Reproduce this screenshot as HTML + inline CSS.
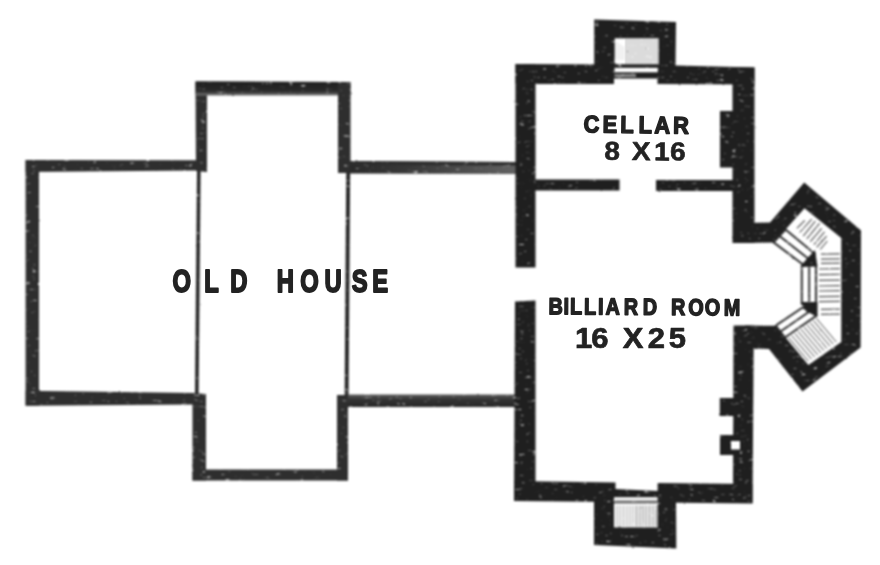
<!DOCTYPE html>
<html lang="en"><head><meta charset="utf-8"><title>Floor plan: Old House, Cellar, Billiard Room</title>
<style>
html,body{margin:0;padding:0;background:#fff;}
body{width:880px;height:565px;overflow:hidden;}
svg{display:block;}
.w{fill:#1f1f1f;}
.oh .w{fill:#2e2e2e;}
.oh .l{stroke:#242424;}
.wh{fill:#fff;}
.gr{fill:#9a9a9a;}
.sill{fill:#fff;stroke:#2c2c2c;stroke-width:2.0;stroke-linejoin:round;}
.l{stroke:#222;fill:none;stroke-linecap:butt;}
.h{stroke:#4a4a4a;fill:none;}
.h3{stroke:#777;fill:none;}
.h4{stroke:#bbb;fill:none;}
.h2{stroke:#444;fill:none;}
.t{font-family:"Liberation Sans",sans-serif;font-weight:bold;fill:#222;stroke:#222;stroke-linejoin:round;}
</style></head><body>
<svg width="880" height="565" viewBox="0 0 880 565">
<defs>
<filter id="soft" x="-2%" y="-2%" width="104%" height="104%"><feGaussianBlur stdDeviation="0.7"/></filter>
<filter id="ink" x="0" y="0" width="100%" height="100%" filterUnits="userSpaceOnUse" color-interpolation-filters="sRGB">
<feTurbulence type="fractalNoise" baseFrequency="0.22 0.3" numOctaves="2" seed="7" result="n"/>
<feDisplacementMap in="SourceGraphic" in2="n" scale="1.6" xChannelSelector="R" yChannelSelector="G" result="d"/>
<feTurbulence type="fractalNoise" baseFrequency="0.16 0.34" numOctaves="3" seed="11" result="n2"/>
<feColorMatrix in="n2" type="matrix" values="0 0 0 0 1  0 0 0 0 1  0 0 0 0 1  4 0 0 0 -2.72" result="sp"/>
<feComposite in="sp" in2="d" operator="in" result="sp2"/>
<feMerge result="m"><feMergeNode in="d"/><feMergeNode in="sp2"/></feMerge>
<feGaussianBlur in="m" stdDeviation="0.8"/>
</filter>
<linearGradient id="fadeR" x1="0" y1="0" x2="1" y2="0"><stop offset="0" stop-color="#2a2a2a"/><stop offset="0.35" stop-color="#383838"/><stop offset="0.7" stop-color="#4e4e4e"/><stop offset="1" stop-color="#626262"/></linearGradient>
<linearGradient id="fadeT" x1="0" y1="0" x2="0" y2="1"><stop offset="0" stop-color="#1e1e1e"/><stop offset="0.7" stop-color="#2a2a2a"/><stop offset="1" stop-color="#777"/></linearGradient>
<linearGradient id="fadeB" x1="0" y1="0" x2="0" y2="1"><stop offset="0" stop-color="#5c5c5c"/><stop offset="0.4" stop-color="#343434"/><stop offset="1" stop-color="#262626"/></linearGradient>
</defs>
<rect width="880" height="565" fill="#fff"/>
<g filter="url(#ink)">
<g id="old-house" class="oh">
<rect class="w" x="25.6" y="160.0" width="13.4" height="245.5"/>
<polygon class="w" points="25.6,160.0 197.0,160.3 197.0,170.5 25.6,172.0"/>
<polygon class="w" points="25.6,390.8 195.0,393.0 195.0,404.5 25.6,405.8"/>
<polygon class="w" points="195.5,82.0 207.0,82.0 207.0,172.0 196.0,171.0"/>
<polygon class="w" points="195.5,81.3 350.5,82.0 350.5,95.5 195.5,95.5" style="fill:url(#fadeT)"/>
<polygon class="w" points="338.0,82.5 350.5,82.5 350.5,173.0 338.0,173.0"/>
<line class="l" x1="198.8" y1="171.0" x2="196.8" y2="395.0" stroke-width="3.60"/>
<line class="l" x1="348.2" y1="172.0" x2="346.6" y2="396.0" stroke-width="3.90"/>
<polygon class="w" points="192.5,393.0 206.0,394.0 206.0,480.5 192.5,480.5"/>
<polygon class="w" points="192.5,469.5 348.0,469.5 348.0,480.5 192.5,480.5"/>
<polygon class="w" points="337.0,395.0 348.0,395.0 348.0,480.5 337.0,480.5"/>
<polygon class="w" points="350.0,161.0 516.0,162.0 516.0,174.0 350.0,173.5" style="fill:url(#fadeR)"/>
<polygon class="w" points="350.0,161.0 516.0,162.0 516.0,165.6 350.0,165.0"/>
<polygon class="w" points="348.0,394.5 516.0,394.5 516.0,407.0 348.0,407.0" style="fill:url(#fadeB)"/>
</g>
<g id="addition">
<polygon class="w" points="515.5,64.0 535.5,64.0 535.5,267.5 515.5,267.5"/>
<polygon class="w" points="515.0,301.5 535.5,300.5 535.5,501.0 514.0,501.0"/>
<polygon class="w" points="515.5,64.0 614.0,64.5 614.0,84.0 515.5,84.0"/>
<polygon class="w" points="657.5,65.0 754.5,67.5 754.5,84.5 657.5,84.0"/>
<polygon class="w" points="594.2,19.5 676.0,22.0 675.5,66.0 594.2,66.0"/>
<rect class="wh" x="614.7" y="38.3" width="43.9" height="26.2"/>
<rect class="w" x="613.5" y="64.5" width="44.5" height="14.0"/>
<rect class="wh" x="614.5" y="67.8" width="43.3" height="4.5"/>
<rect class="gr" x="614.5" y="74.3" width="21.5" height="2.5"/>
<polygon class="w" points="732.5,67.0 754.5,67.5 754.5,243.0 732.5,243.0"/>
<rect class="w" x="720.0" y="111.0" width="13.0" height="56.5"/>
<polygon class="w" points="535.0,179.5 619.5,179.5 619.5,190.5 535.0,190.5"/>
<polygon class="w" points="656.0,180.0 733.0,180.0 733.0,191.0 656.0,191.0"/>
<polygon class="w" points="733.5,325.5 753.8,325.5 752.5,503.0 733.0,503.0"/>
<rect class="w" x="719.8" y="398.0" width="14.2" height="18.0"/>
<rect class="w" x="720.0" y="435.0" width="14.0" height="20.0"/>
<rect class="wh" x="731.0" y="441.0" width="9.0" height="8.5"/>
<polygon class="w" points="514.0,481.0 615.5,482.5 615.5,502.0 514.0,501.0"/>
<polygon class="w" points="657.6,483.0 752.5,484.0 752.5,503.5 657.6,502.5"/>
<polygon class="w" points="594.0,500.0 676.0,501.0 676.3,548.5 594.0,545.0"/>
<polygon class="w" points="615.0,489.0 658.0,491.0 658.0,504.0 615.0,504.0"/>
<rect class="wh" x="614.0" y="497.2" width="43.6" height="2.8"/>
<rect class="gr" x="614.0" y="500.0" width="43.6" height="2.4"/>
<rect class="wh" x="614.0" y="503.3" width="43.6" height="24.1"/>
<polygon class="w" points="745.0,223.0 770.0,222.5 804.2,182.5 861.0,230.5 860.6,347.5 802.5,391.5 769.0,349.0 745.0,348.0 745.0,325.5 776.0,325.8 786.0,338.0 808.4,365.0 841.3,342.0 841.3,238.0 804.5,208.2 786.0,229.0 773.4,242.5 745.0,243.0"/>
</g>
<g id="stairs">
<polygon class="sill" points="785.5,229.5 815.0,254.0 803.0,264.5 773.6,242.4"/>
<line class="l" x1="779.5" y1="236.0" x2="809.0" y2="259.3" stroke-width="1.80"/>
<polygon class="sill" points="775.7,325.7 802.6,307.5 816.5,315.6 785.0,337.5"/>
<line class="l" x1="780.5" y1="331.5" x2="809.5" y2="311.5" stroke-width="1.80"/>
<polygon class="sill" points="801.8,265.0 816.0,265.0 816.0,304.0 801.8,304.0"/>
<line class="l" x1="809.2" y1="265.0" x2="809.2" y2="304.0" stroke-width="1.80"/>
<polygon class="w" points="815.0,250.0 817.5,266.5 800.6,267.0 807.0,258.5"/>
<polygon class="w" points="800.6,302.0 817.5,302.0 817.5,316.5 806.0,311.0"/>
<line class="h" x1="796.9" y1="228.3" x2="804.7" y2="220.5" stroke-width="1.10"/>
<line class="h" x1="799.7" y1="232.5" x2="811.7" y2="219.1" stroke-width="1.10"/>
<line class="h" x1="803.2" y1="236.1" x2="815.3" y2="221.2" stroke-width="1.10"/>
<line class="h" x1="806.8" y1="238.9" x2="819.5" y2="223.3" stroke-width="1.10"/>
<line class="h" x1="810.3" y1="241.7" x2="821.7" y2="228.3" stroke-width="1.10"/>
<line class="h" x1="813.9" y1="244.6" x2="824.5" y2="231.8" stroke-width="1.10"/>
<line class="h" x1="816.7" y1="247.4" x2="826.6" y2="236.1" stroke-width="1.10"/>
<line class="h" x1="820.2" y1="249.5" x2="827.3" y2="241.0" stroke-width="1.10"/>
<line class="h" x1="821.0" y1="254.2" x2="839.8" y2="253.9" stroke-width="1.20"/>
<line class="h" x1="821.0" y1="259.1" x2="839.8" y2="258.8" stroke-width="1.20"/>
<line class="h" x1="821.0" y1="263.4" x2="839.8" y2="263.1" stroke-width="1.20"/>
<line class="h" x1="819.0" y1="269.0" x2="839.8" y2="268.7" stroke-width="1.20"/>
<line class="h" x1="819.0" y1="274.7" x2="839.8" y2="274.4" stroke-width="1.20"/>
<line class="h" x1="819.0" y1="280.4" x2="839.8" y2="280.1" stroke-width="1.20"/>
<line class="h" x1="819.0" y1="286.0" x2="839.8" y2="285.7" stroke-width="1.20"/>
<line class="h" x1="819.0" y1="291.0" x2="839.8" y2="290.7" stroke-width="1.20"/>
<line class="h" x1="819.0" y1="296.7" x2="839.8" y2="296.4" stroke-width="1.20"/>
<line class="h" x1="819.0" y1="301.6" x2="839.8" y2="301.3" stroke-width="1.20"/>
<line class="h" x1="821.0" y1="309.4" x2="839.8" y2="309.1" stroke-width="1.20"/>
<line class="h" x1="821.0" y1="314.4" x2="839.8" y2="314.1" stroke-width="1.20"/>
<line class="h2" x1="788.6" y1="337.7" x2="808.4" y2="361.2" stroke-width="1.00"/>
<line class="h2" x1="791.7" y1="335.5" x2="811.5" y2="359.1" stroke-width="1.00"/>
<line class="h2" x1="794.8" y1="333.4" x2="814.6" y2="356.9" stroke-width="1.00"/>
<line class="h2" x1="797.8" y1="331.2" x2="817.7" y2="354.8" stroke-width="1.00"/>
<line class="h2" x1="800.9" y1="329.1" x2="820.8" y2="352.7" stroke-width="1.00"/>
<line class="h2" x1="804.0" y1="326.9" x2="823.9" y2="350.5" stroke-width="1.00"/>
<line class="h2" x1="807.1" y1="324.8" x2="826.9" y2="348.4" stroke-width="1.00"/>
<line class="h2" x1="810.2" y1="322.7" x2="830.0" y2="346.2" stroke-width="1.00"/>
<line class="h2" x1="813.3" y1="320.5" x2="833.1" y2="344.1" stroke-width="1.00"/>
<line class="h2" x1="816.4" y1="318.4" x2="836.2" y2="341.9" stroke-width="1.00"/>
<line class="h3" x1="626.5" y1="39.0" x2="626.5" y2="64.0" stroke-width="0.80"/>
<line class="h3" x1="629.5" y1="39.0" x2="629.5" y2="64.0" stroke-width="0.80"/>
<line class="h3" x1="632.5" y1="39.0" x2="632.5" y2="64.0" stroke-width="0.80"/>
<line class="h3" x1="635.5" y1="39.0" x2="635.5" y2="64.0" stroke-width="0.80"/>
<line class="h3" x1="638.5" y1="39.0" x2="638.5" y2="64.0" stroke-width="0.80"/>
<line class="h3" x1="641.5" y1="39.0" x2="641.5" y2="64.0" stroke-width="0.80"/>
<line class="h3" x1="644.5" y1="39.0" x2="644.5" y2="64.0" stroke-width="0.80"/>
<line class="h3" x1="647.5" y1="39.0" x2="647.5" y2="64.0" stroke-width="0.80"/>
<line class="h3" x1="650.5" y1="39.0" x2="650.5" y2="64.0" stroke-width="0.80"/>
<line class="h3" x1="653.5" y1="39.0" x2="653.5" y2="64.0" stroke-width="0.80"/>
<line class="h3" x1="656.5" y1="39.0" x2="656.5" y2="64.0" stroke-width="0.80"/>
<line class="h4" x1="617.0" y1="42.0" x2="617.0" y2="60.0" stroke-width="0.60"/>
<line class="h4" x1="620.0" y1="44.0" x2="620.0" y2="60.0" stroke-width="0.60"/>
<line class="h4" x1="623.0" y1="46.0" x2="623.0" y2="60.0" stroke-width="0.60"/>
<line class="h3" x1="617.0" y1="505.5" x2="617.0" y2="526.5" stroke-width="0.70"/>
<line class="h3" x1="620.2" y1="505.5" x2="620.2" y2="526.5" stroke-width="0.70"/>
<line class="h3" x1="623.5" y1="505.5" x2="623.5" y2="526.5" stroke-width="0.70"/>
<line class="h3" x1="626.8" y1="505.5" x2="626.8" y2="526.5" stroke-width="0.70"/>
<line class="h3" x1="630.0" y1="505.5" x2="630.0" y2="526.5" stroke-width="0.70"/>
<line class="h3" x1="633.2" y1="505.5" x2="633.2" y2="526.5" stroke-width="0.70"/>
<line class="h3" x1="636.5" y1="505.5" x2="636.5" y2="526.5" stroke-width="1.00"/>
<line class="h3" x1="639.8" y1="505.5" x2="639.8" y2="526.5" stroke-width="1.00"/>
<line class="h3" x1="643.0" y1="505.5" x2="643.0" y2="526.5" stroke-width="1.00"/>
<line class="h3" x1="646.2" y1="505.5" x2="646.2" y2="526.5" stroke-width="1.00"/>
<line class="h3" x1="649.5" y1="505.5" x2="649.5" y2="526.5" stroke-width="1.00"/>
<line class="h3" x1="652.8" y1="505.5" x2="652.8" y2="526.5" stroke-width="1.00"/>
<line class="h3" x1="656.0" y1="505.5" x2="656.0" y2="526.5" stroke-width="1.00"/>
</g>
</g>
<g id="labels" filter="url(#soft)">
<text class="t" transform="scale(0.741,1)" x="232.9 275.8 310.6 315.6 373.5 405.1 437.9 474.7 502.3" y="292.1" font-size="32.1" stroke-width="1.90">OLD HOUSE</text>
<text class="t" transform="rotate(0.80 583.5 133.0) scale(0.911,1)" x="640.4 661.5 680.8 700.9 718.3 738.7" y="132.2" font-size="24.0" stroke-width="1.50">CELLAR</text>
<text class="t" transform="rotate(0.50 603.4 160.0) scale(1.080,1)" x="559.6 564.6 585.0 590.0 605.6 620.3" y="159.7" font-size="26.0" stroke-width="0.60">8 X 16</text>
<text class="t" transform="rotate(0.40 550.0 315.0) scale(0.849,1)" x="646.0 663.8 671.5 688.0 704.5 713.3 734.8 757.2 762.2 790.4 810.6 830.2 852.4" y="314.2" font-size="23.3" stroke-width="1.50">BILLIARD ROOM</text>
<text class="t" transform="scale(1.050,1)" x="547.6 563.2 568.2 593.1 616.9 637.0" y="348.4" font-size="29.5" stroke-width="0.70">16 X25</text>
</g>
</svg>
</body></html>
